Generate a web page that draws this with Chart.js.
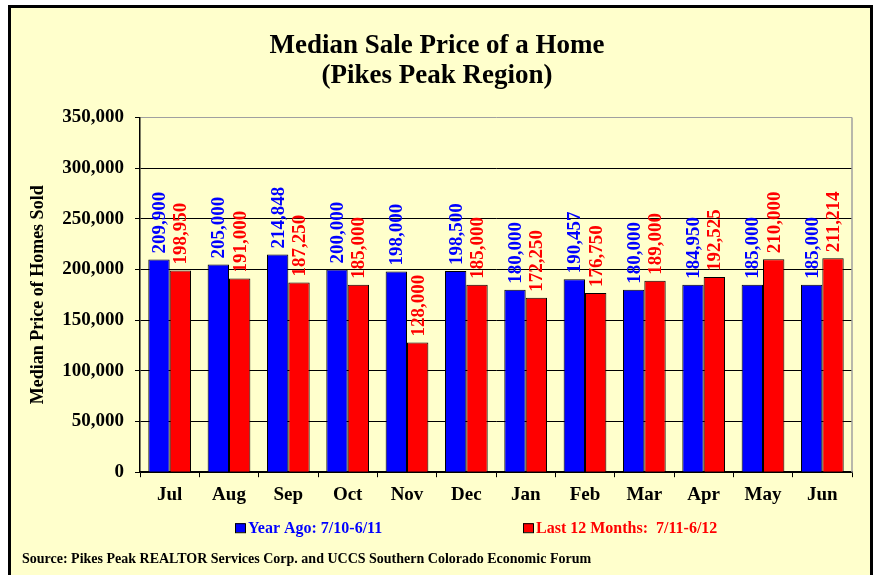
<!DOCTYPE html>
<html lang="en">
<head>
<meta charset="UTF-8">
<title>Median Sale Price of a Home (Pikes Peak Region)</title>
<script src="https://cdn.jsdelivr.net/npm/chart.js@4.4.0/dist/chart.umd.min.js"></script>
<style>
  html, body { margin: 0; padding: 0; background: #fff; }
  #wrap { width: 874px; height: 575px; }
</style>
</head>
<body>
<div id="wrap"><canvas id="chart" width="874" height="575"></canvas></div>

<script>
const months = ['Jul', 'Aug', 'Sep', 'Oct', 'Nov', 'Dec', 'Jan', 'Feb', 'Mar', 'Apr', 'May', 'Jun'];
const yearAgo = [209900, 205000, 214848, 200000, 198000, 198500, 180000, 190457, 180000, 184950, 185000, 185000];
const last12 = [198950, 191000, 187250, 185000, 128000, 185000, 172250, 176750, 189000, 192525, 210000, 211214];
const seriesNames = ['Year Ago: 7/10-6/11', 'Last 12 Months:  7/11-6/12'];
const seriesColors = ['#0000ff', '#ff0000'];
const titleLines = ['Median Sale Price of a Home', '(Pikes Peak Region)'];
const yTitle = 'Median Price of Homes Sold';
const sourceNote = 'Source: Pikes Peak REALTOR Services Corp. and UCCS Southern Colorado Economic Forum';

const serif = '"Liberation Serif", "Times New Roman", serif';

// yellow panel with black frame (frame runs off the bottom edge)
const framePlugin = {
  id: 'frame',
  beforeDraw(chart) {
    const ctx = chart.ctx;
    ctx.save();
    ctx.fillStyle = '#ffffff';
    ctx.fillRect(0, 0, chart.width, chart.height);
    ctx.fillStyle = '#ffffcc';
    ctx.fillRect(8, 5, 865, chart.height);
    ctx.strokeStyle = '#000';
    ctx.lineWidth = 3;
    ctx.beginPath();
    ctx.moveTo(9.5, chart.height + 5);
    ctx.lineTo(9.5, 6.5);
    ctx.lineTo(871.5, 6.5);
    ctx.lineTo(871.5, chart.height + 5);
    ctx.stroke();
    ctx.restore();
  }
};

// gray right edge of plot area
const plotEdge = {
  id: 'plotEdge',
  beforeDatasetsDraw(chart) {
    const {ctx, chartArea: a} = chart;
    ctx.save();
    ctx.strokeStyle = '#a0a0a0';
    ctx.lineWidth = 1.5;
    ctx.beginPath();
    ctx.moveTo(a.right, a.top);
    ctx.lineTo(a.right, a.bottom);
    ctx.stroke();
    ctx.restore();
  }
};

// vertical value labels above each bar
const barLabels = {
  id: 'barLabels',
  afterDatasetsDraw(chart) {
    const ctx = chart.ctx;
    ctx.save();
    ctx.font = 'bold 19px ' + serif;
    ctx.textAlign = 'left';
    ctx.textBaseline = 'middle';
    chart.data.datasets.forEach((ds, i) => {
      const meta = chart.getDatasetMeta(i);
      ctx.fillStyle = seriesColors[i];
      meta.data.forEach((bar, j) => {
        ctx.save();
        ctx.translate(bar.x, bar.y - 6);
        ctx.rotate(-Math.PI / 2);
        ctx.fillText(ds.data[j].toLocaleString('en-US'), 0, 1);
        ctx.restore();
      });
    });
    ctx.restore();
  }
};

// legend row under the month labels, text coloured like its series
const legendRow = {
  id: 'legendRow',
  afterDraw(chart) {
    const {ctx, chartArea: a} = chart;
    const y = a.bottom + 57;
    const xs = [a.left + 95, a.left + 383];
    ctx.save();
    ctx.font = 'bold 16px ' + serif;
    ctx.textBaseline = 'middle';
    ctx.textAlign = 'left';
    seriesNames.forEach((name, i) => {
      ctx.fillStyle = seriesColors[i];
      ctx.fillRect(xs[i], y - 6, 10, 9);
      ctx.strokeStyle = '#000';
      ctx.lineWidth = 1;
      ctx.strokeRect(xs[i] + 0.5, y - 5.5, 10, 9);
      ctx.fillText(name, xs[i] + 13, y);
    });
    ctx.restore();
  }
};

new Chart(document.getElementById('chart'), {
  type: 'bar',
  data: {
    labels: months,
    datasets: [
      { label: seriesNames[0], data: yearAgo, backgroundColor: seriesColors[0], borderColor: '#000', borderWidth: 1 },
      { label: seriesNames[1], data: last12, backgroundColor: seriesColors[1], borderColor: '#000', borderWidth: 1 }
    ]
  },
  plugins: [framePlugin, plotEdge, barLabels, legendRow],
  options: {
    responsive: false,
    animation: false,
    categoryPercentage: 0.72,
    barPercentage: 1.0,
    layout: { padding: { top: 8, left: 22, right: 22, bottom: 0 } },
    plugins: {
      legend: { display: false },
      tooltip: { enabled: false },
      title: {
        display: true,
        text: titleLines,
        color: '#000',
        font: { family: serif, size: 27, weight: 'bold', lineHeight: 1.12 },
        padding: { top: 23, bottom: 26 }
      },
      subtitle: {
        display: true,
        position: 'bottom',
        align: 'start',
        text: sourceNote,
        color: '#000',
        font: { family: serif, size: 14, weight: 'bold', lineHeight: 1.2 },
        padding: { top: 8, bottom: 7 }
      }
    },
    scales: {
      x: {
        grid: { drawOnChartArea: false, color: '#000', tickLength: 5, offset: true },
        border: { color: '#000', width: 1.5 },
        ticks: { color: '#000', padding: 6, font: { family: serif, size: 19, weight: 'bold' } },
        afterFit(scale) { scale.height = 71; }
      },
      y: {
        min: 0,
        max: 350000,
        ticks: {
          stepSize: 50000,
          color: '#000',
          padding: 11,
          font: { family: serif, size: 19, weight: 'bold' },
          callback: v => v.toLocaleString('en-US')
        },
        grid: {
          color: c => (c.tick && c.tick.value === 350000) ? '#a0a0a0' : '#000',
          tickColor: '#000',
          tickLength: 5,
          lineWidth: 1
        },
        border: { color: '#000', width: 1.5 },
        title: {
          display: true,
          text: yTitle,
          color: '#000',
          font: { family: serif, size: 18, weight: 'bold' },
          padding: { top: 6, bottom: 0 }
        },
        afterFit(scale) { scale.width = 118; }
      }
    }
  }
});
</script>
</body>
</html>
